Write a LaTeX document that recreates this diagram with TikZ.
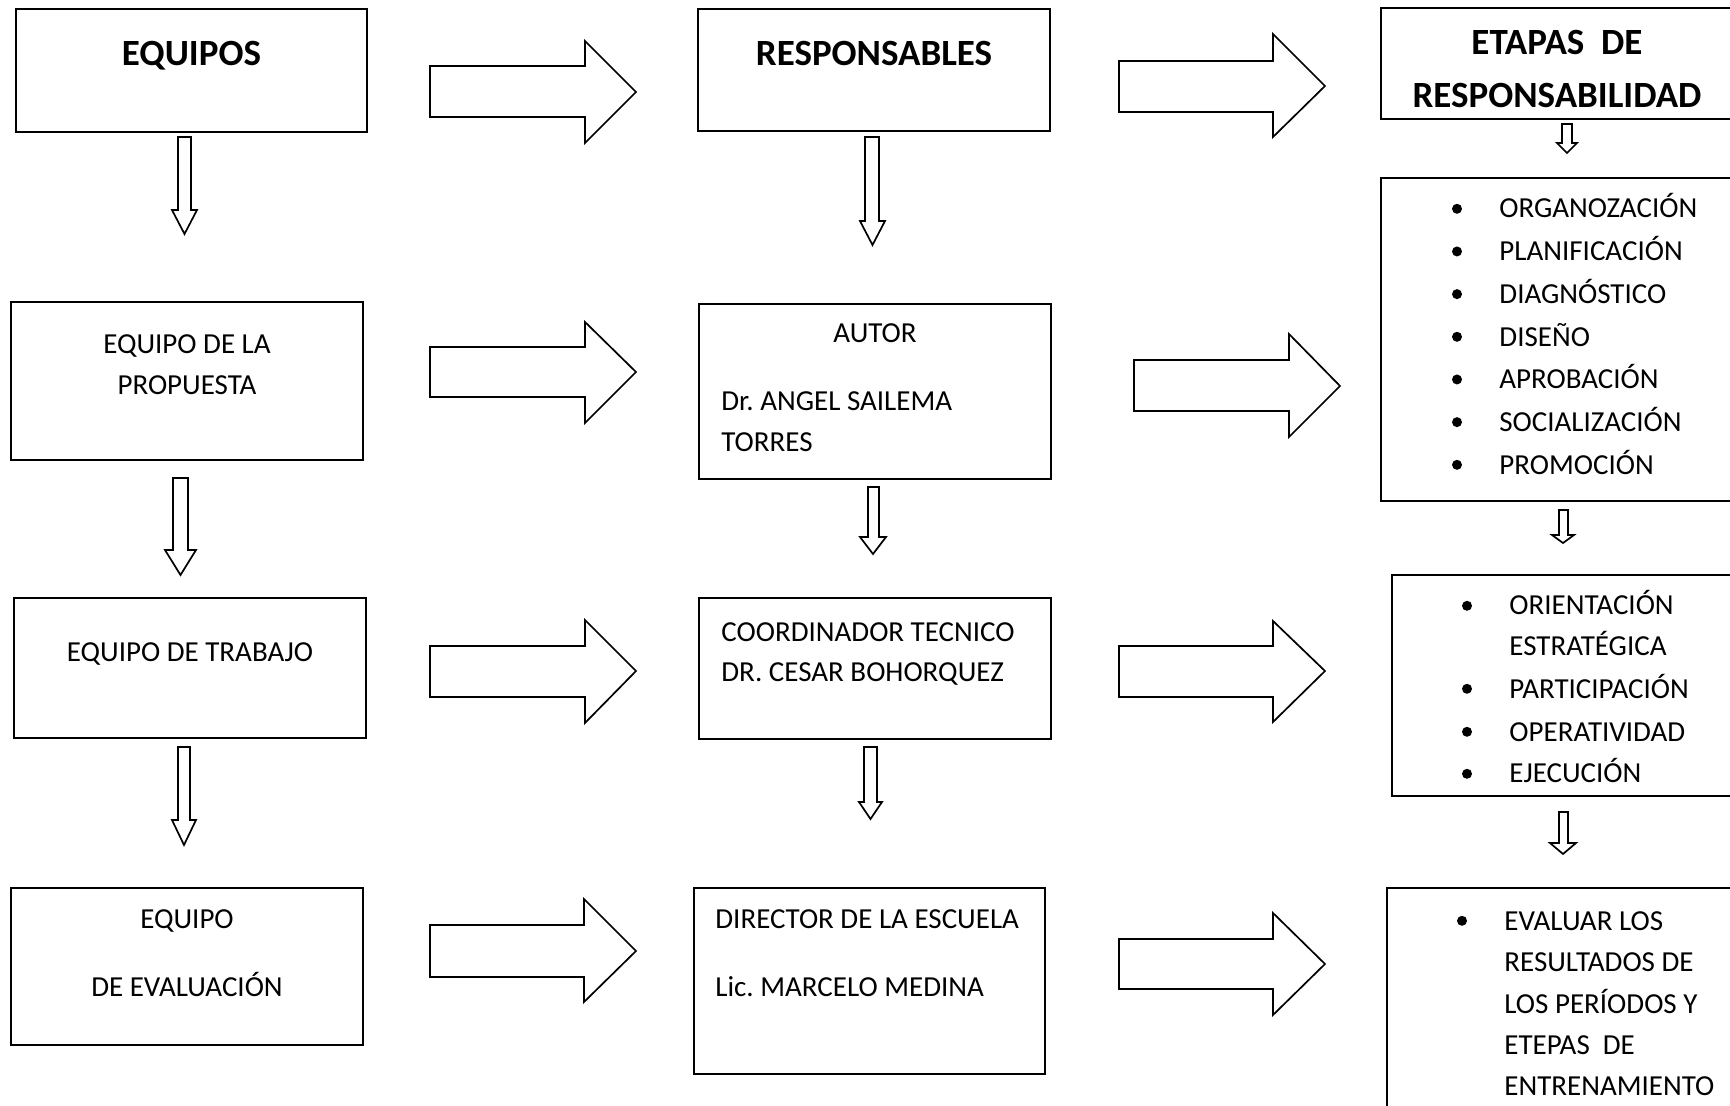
\documentclass[tikz,border=0pt]{standalone}
\usepackage{fontspec}
\setmainfont{Carlito}
\usetikzlibrary{fit}
\frenchspacing

% block arrow pointing right: shaft start, head base, tip x; shaft top/bottom; head top/bottom; tip y
\newcommand\rightblock[8]{%
  \draw[blockarrow] (#1,#4) -- (#2,#4) -- (#2,#6) -- (#3,#8) -- (#2,#7) -- (#2,#5) -- (#1,#5) -- cycle;}
% block arrow pointing down: shaft left/right; head left/right; top, head base, tip y
\newcommand\downblock[7]{%
  \draw[blockarrow] (#1,#5) -- (#2,#5) -- (#2,#6) -- (#4,#6) -- ({(#3+#4)/2},#7) -- (#3,#6) -- (#1,#6) -- cycle;}
% framed box given by its two corners
\newcommand\panel[5]{%
  \coordinate (#1-nw) at (#2,#3);
  \coordinate (#1-se) at (#4,#5);
  \node[box, fit=(#1-nw)(#1-se)] (#1) {};}

\tikzset{
  box/.style={draw=black, line width=1.1pt, inner sep=0pt},
  blockarrow/.style={draw=black, line width=0.85pt, fill=white, line join=miter},
  head/.style={inner sep=0pt, anchor=base, font=\fontsize{18.5pt}{22pt}\selectfont\bfseries},
  txtc/.style={inner sep=0pt, anchor=base, font=\fontsize{14.5pt}{17pt}\selectfont},
  txtl/.style={inner sep=0pt, anchor=base west, font=\fontsize{14.5pt}{17pt}\selectfont},
}

\begin{document}
\begin{tikzpicture}[x=0.5pt, y=-0.5pt]
\useasboundingbox (0,0) rectangle (1730,1106);
\fill[white] (0,0) rectangle (1730,1106);
\clip (0,0) rectangle (1730,1106);

% ---------- column 1: teams ----------
\panel{b1}{16}{9}{367}{132}
\panel{b2}{11}{302}{363}{460}
\panel{b3}{14}{598}{366}{738}
\panel{b4}{11}{888}{363}{1045}

\node[head] (t-equipos) at (191.5,66) {EQUIPOS};
\node[txtc] (t-prop1) at (187,354) {EQUIPO DE LA};
\node[txtc] (t-prop2) at (187,395) {PROPUESTA};
\node[txtc] (t-trab) at (190,662) {EQUIPO DE TRABAJO};
\node[txtc] (t-eval1) at (187,928) {EQUIPO};
\node[txtc] (t-eval2) at (187,996) {DE EVALUACIÓN};

% ---------- column 2: people in charge ----------
\panel{c1}{698}{9}{1050}{131}
\panel{c2}{699}{304}{1051}{479}
\panel{c3}{699}{598}{1051}{739}
\panel{c4}{694}{888}{1045}{1074}

\node[head] (t-resp) at (874,66) {RESPONSABLES};
\node[txtc] (t-autor) at (875,343) {AUTOR};
\node[txtl] (t-autor1) at (721,411) {Dr. ANGEL SAILEMA};
\node[txtl] (t-autor2) at (721,452) {TORRES};
\node[txtl] (t-coord1) at (721,642) {COORDINADOR TECNICO};
\node[txtl] (t-coord2) at (721,682) {DR. CESAR BOHORQUEZ};
\node[txtl] (t-dir1) at (715,928) {DIRECTOR DE LA ESCUELA};
\node[txtl] (t-dir2) at (715,996) {Lic. MARCELO MEDINA};

% ---------- column 3: stages ----------
\panel{d1}{1381}{8}{1745}{119}
\panel{d2}{1381}{178}{1745}{501}
\panel{d3}{1392}{575}{1745}{796}
\panel{d4}{1387}{888}{1745}{1130}

\node[head] (t-etapas1) at (1557,55) {ETAPAS\ \ DE};
\node[head] (t-etapas2) at (1557,108) {RESPONSABILIDAD};

\foreach \t [count=\i] in {ORGANOZACIÓN, PLANIFICACIÓN, DIAGNÓSTICO, DISEÑO, APROBACIÓN, SOCIALIZACIÓN, PROMOCIÓN} {
  \node[txtl] (e1-\i) at (1499, {218+(\i-1)*42.67}) {\t};
  \fill (1457, {218+(\i-1)*42.67-9.2}) circle (2.5pt);
}

\node[txtl] (e2-1) at (1509,615) {ORIENTACIÓN};
\node[txtl] (e2-2) at (1509,656) {ESTRATÉGICA};
\node[txtl] (e2-3) at (1509,698) {PARTICIPACIÓN};
\node[txtl] (e2-4) at (1509,741) {OPERATIVIDAD};
\node[txtl] (e2-5) at (1509,783) {EJECUCIÓN};
\foreach \y in {615,698,741,783} { \fill (1467,\y-9.2) circle (2.5pt); }

\node[txtl] (e3-1) at (1504,930) {EVALUAR LOS};
\node[txtl] (e3-2) at (1504,971) {RESULTADOS DE};
\node[txtl] (e3-3) at (1504,1013) {LOS PERÍODOS Y};
\node[txtl] (e3-4) at (1504,1054) {ETEPAS\ \ DE};
\node[txtl] (e3-5) at (1504,1095) {ENTRENAMIENTO};
\fill (1462,930-9.2) circle (2.5pt);

% ---------- horizontal block arrows ----------
\rightblock{430}{585}{636}{66}{117}{41}{143}{92}
\rightblock{430}{585}{636}{347}{397}{322}{423}{372}
\rightblock{430}{585}{636}{646}{697}{620}{723}{671}
\rightblock{430}{584}{636}{925}{977}{899}{1002}{951}

\rightblock{1119}{1273}{1325}{61}{112}{34}{137}{86}
\rightblock{1134}{1289}{1340}{360}{411}{334}{437}{386}
\rightblock{1119}{1273}{1325}{646}{697}{621}{722}{671}
\rightblock{1119}{1273}{1325}{939}{989}{913}{1015}{964}

% ---------- vertical block arrows ----------
\downblock{178}{191}{172}{197}{137}{210}{234}
\downblock{173}{188}{165}{196}{478}{550}{575}
\downblock{178}{190}{172}{196}{747}{820}{845}

\downblock{865}{879}{860}{885}{137}{221}{245}
\downblock{868}{879}{860}{886}{487}{537}{554}
\downblock{864}{877}{859}{882}{747}{802}{819}

\downblock{1562}{1572}{1557}{1577}{124}{143}{153}
\downblock{1559}{1568}{1552}{1574}{510}{535}{543}
\downblock{1559}{1568}{1550}{1576}{812}{843}{854}
\end{tikzpicture}
\end{document}
